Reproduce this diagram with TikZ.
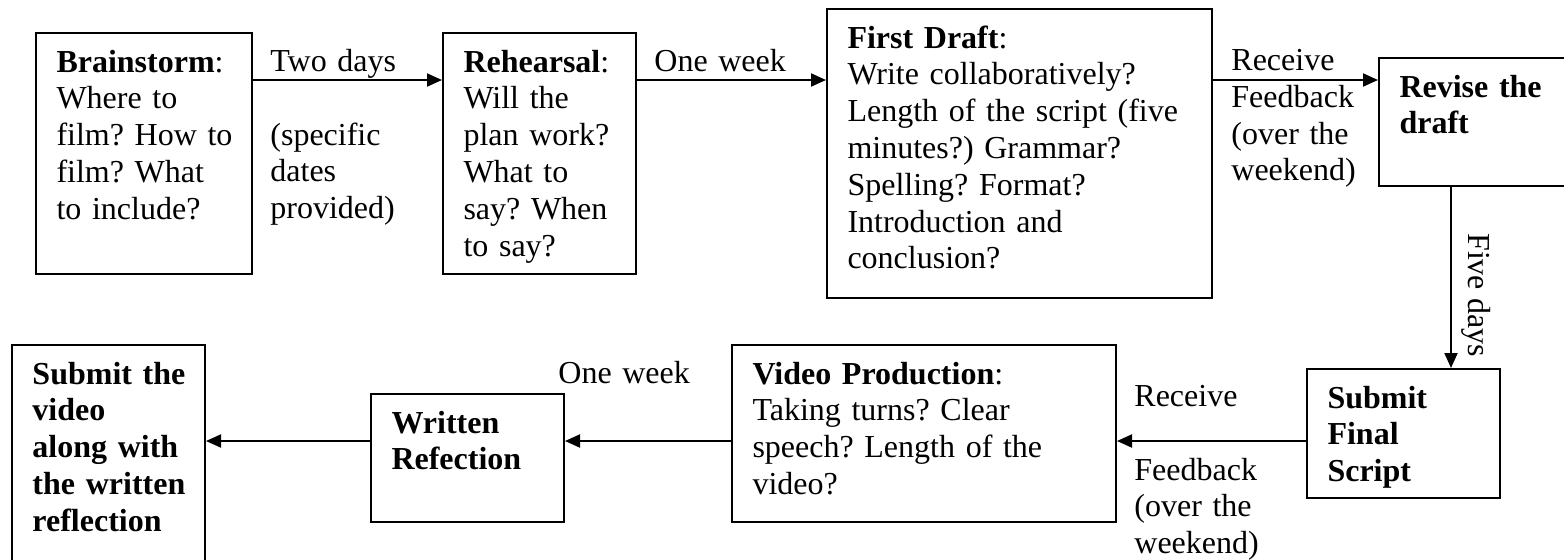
\documentclass[tikz,border=0pt]{standalone}
\usepackage{fontspec}
\setmainfont{Liberation Serif}
\usetikzlibrary{arrows.meta}
\frenchspacing

\tikzset{
  stage/.style={draw, line width=1pt, anchor=north west, align=left,
    inner xsep=10.25pt, inner ysep=7pt, text height=12.5pt},
  note/.style={anchor=north west, align=left, inner sep=0pt,
    text height=12.5pt, text width=75pt},
  flow/.style={-{Triangle[length=7.5pt,width=6.5pt]}, line width=1pt}
}

\begin{document}
\begin{tikzpicture}[x=0.5pt, y=-0.5pt, font=\fontsize{16pt}{18.4pt}\selectfont]
  \useasboundingbox (0,0) rectangle (1564,559);

  \node[stage, text width=87.5pt, text depth=94pt] (brain) at (35,32)
    {\textbf{Brainstorm}:\\ Where to\\ \mbox{film? How to}\\ film? What\\ to include?};
  \node[stage, text width=76pt, text depth=94pt] (rehe) at (442,32)
    {\textbf{Rehearsal}:\\ Will the\\ \mbox{plan work?}\\ What to\\ \mbox{say? When}\\ to say?};
  \node[stage, text width=172pt, text depth=118pt] (draft) at (826,8)
    {\textbf{First Draft}:\\ Write collaboratively?\\ Length of the script (five\\ minutes?) Grammar?\\ Spelling? Format?\\ Introduction and\\ conclusion?};
  \node[stage, text width=80.5pt, text depth=37.5pt] (revise) at (1378,57)
    {\textbf{Revise the}\\ \textbf{draft}};
  \node[stage, text width=76pt, text depth=38pt] (final) at (1306,368)
    {\textbf{Submit}\\ \textbf{Final}\\ \textbf{Script}};
  \node[stage, text width=171.5pt, text depth=62pt] (video) at (731,344)
    {\textbf{Video Production}:\\ Taking turns? Clear\\ speech? Length of the\\ video?};
  \node[stage, text width=76pt, text depth=37.5pt] (written) at (370,393)
    {\textbf{Written}\\ \textbf{Refection}};
  \node[stage, text width=76pt, text depth=91.5pt] (submit) at (11,344)
    {\textbf{\mbox{Submit the}}\\ \textbf{video}\\ \textbf{\mbox{along with}}\\ \textbf{\mbox{the written}}\\ \textbf{reflection}};

  \coordinate (row1) at (0,80);
  \coordinate (row2) at (0,441);
  \coordinate (col) at (1451,0);

  \foreach \a/\b in {brain/rehe, rehe/draft, draft/revise}
    \draw[flow] (\a.east |- row1) -- (\b.west |- row1);
  \draw[flow] (col |- revise.south) -- (col |- final.north);
  \foreach \a/\b in {final/video, video/written, written/submit}
    \draw[flow] (\a.west |- row2) -- (\b.east |- row2);

  \node[note] (twodays) at (270,46) {Two days\\[18.4pt](specific\\ dates\\ provided)};
  \node[note] (oneweek) at (654,46) {One week};
  \node[note] (feedback) at (1231,45) {Receive\\ Feedback\\ (over the\\ weekend)};
  \node[rotate=-90, inner sep=0pt] (fivedays) at (1476,295) {Five days};
  \node[note] (feedbacktwo) at (1134,381) {Receive\\[18.4pt]Feedback\\ (over the\\ weekend)};
  \node[note] (oneweektwo) at (558,358) {One week};
\end{tikzpicture}
\end{document}
